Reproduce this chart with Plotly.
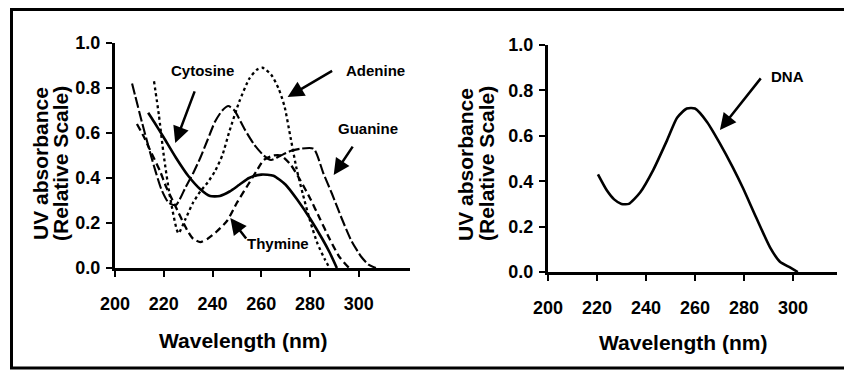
import plotly.graph_objects as go

# ---------------- data ----------------
cytosine_wl = [213.6, 216, 220, 225, 230, 235, 239, 243, 247, 251, 255, 260, 265, 270, 275, 280, 285, 288, 291]
cytosine_abs = [0.69, 0.65, 0.58, 0.49, 0.41, 0.35, 0.32, 0.32, 0.34, 0.37, 0.40, 0.415, 0.41, 0.37, 0.30, 0.22, 0.13, 0.07, 0.0]

adenine_wl = [216, 218, 220, 222.5, 226, 229, 232, 235, 238, 241, 244, 247, 251, 255, 258, 260.5, 264, 267, 269.5, 272, 274.5, 277, 280, 283, 286, 288]
adenine_abs = [0.83, 0.68, 0.50, 0.32, 0.155, 0.22, 0.29, 0.34, 0.38, 0.43, 0.50, 0.61, 0.74, 0.84, 0.88, 0.89, 0.86, 0.80, 0.72, 0.58, 0.44, 0.33, 0.21, 0.11, 0.04, 0.0]

guanine_wl = [207, 211, 215, 219, 222, 225, 229, 232, 235, 238, 241, 244, 246.5, 249, 253, 257, 261, 264, 268, 272, 276, 281.5, 285.5, 289, 293, 297, 301, 304, 307]
guanine_abs = [0.82, 0.65, 0.49, 0.35, 0.29, 0.28, 0.36, 0.42, 0.49, 0.57, 0.65, 0.70, 0.72, 0.70, 0.62, 0.55, 0.50, 0.48, 0.50, 0.52, 0.53, 0.53, 0.42, 0.33, 0.22, 0.12, 0.05, 0.015, 0.0]

thymine_wl = [209, 212, 215, 218.5, 221, 225, 229.5, 232, 235, 238, 241.5, 246, 250, 254, 258, 261, 265, 268, 272, 276, 280, 284, 288, 292, 296]
thymine_abs = [0.64, 0.58, 0.51, 0.43, 0.36, 0.27, 0.17, 0.13, 0.115, 0.13, 0.16, 0.21, 0.29, 0.36, 0.43, 0.48, 0.50, 0.50, 0.46, 0.39, 0.31, 0.22, 0.13, 0.05, 0.0]

dna_wl = [220.4, 224, 227, 230, 233, 237.6, 243, 248.6, 252.7, 256.7, 260, 265, 270, 275.5, 279.6, 285, 290.6, 294.7, 298.8, 302]
dna_abs = [0.43, 0.36, 0.32, 0.30, 0.30, 0.35, 0.45, 0.58, 0.68, 0.72, 0.72, 0.66, 0.57, 0.46, 0.37, 0.24, 0.11, 0.045, 0.02, 0.0]

x_ticks = [200, 220, 240, 260, 280, 300]
y_ticks = [0.0, 0.2, 0.4, 0.6, 0.8, 1.0]

# ---------------- figure ----------------
# the page body has an 8 px margin, so the figure is made 8 px smaller
# and all page-pixel positions below are shifted by that offset
OFF = 8
W, H = 852 - OFF, 374 - OFF
FONT = "Liberation Sans, Arial, sans-serif"
NARROW = "Liberation Sans Narrow, Arial Narrow, Liberation Sans, sans-serif"

fig = go.Figure()

def add_curve(xs, ys, dash, width, axis):
    fig.add_trace(go.Scatter(
        x=xs, y=ys, mode="lines",
        line=dict(color="black", width=width, dash=dash, shape="spline", smoothing=0.6),
        xaxis="x" + axis, yaxis="y" + axis, showlegend=False, hoverinfo="skip"))

add_curve(cytosine_wl, cytosine_abs, "solid", 2.6, "")
add_curve(adenine_wl, adenine_abs, "3px,3px", 2.3, "")
add_curve(guanine_wl, guanine_abs, "11px,3px", 2.1, "")
add_curve(thymine_wl, thymine_abs, "7px,4px", 2.3, "")
add_curve(dna_wl, dna_abs, "solid", 2.6, "2")

def px_x(p):
    return (p - OFF) / W

def px_y(p):
    return 1 - (p - OFF) / H

axis_common = dict(
    showline=True, linecolor="black", linewidth=3, mirror=False,
    showgrid=False, zeroline=False, automargin=False,
    ticks="outside", ticklen=6, tickwidth=2, tickcolor="black",
    tickfont=dict(family=FONT, size=18, color="black", weight="bold"),
)

fig.update_layout(
    width=W, height=H,
    margin=dict(l=0, r=0, t=0, b=0, pad=0, autoexpand=False),
    paper_bgcolor="white", plot_bgcolor="white",
    showlegend=False,
    xaxis=dict(axis_common, domain=[px_x(115), px_x(410)], range=[200, 321],
               tickvals=x_ticks, anchor="y", ticklabelstandoff=11),
    yaxis=dict(axis_common, domain=[px_y(268), px_y(43)], range=[0, 1],
               tickvals=y_ticks, tickformat=".1f", anchor="x", ticklabelstandoff=2),
    xaxis2=dict(axis_common, domain=[px_x(548), px_x(837)], range=[200, 318],
                tickvals=x_ticks, anchor="y2", ticklabelstandoff=11),
    yaxis2=dict(axis_common, domain=[px_y(272), px_y(45)], range=[0, 1],
                tickvals=y_ticks, tickformat=".1f", anchor="x2", ticklabelstandoff=2),
)

# frame around the whole picture
fig.add_shape(type="rect", xref="paper", yref="paper",
              x0=px_x(11.5), x1=px_x(866), y0=px_y(368), y1=px_y(9.5),
              line=dict(color="black", width=3), fillcolor="rgba(0,0,0,0)")

annots = []
title_font = dict(family=FONT, size=21, color="black", weight="bold")
ytitle_font = dict(family=FONT, size=21, color="black", weight="bold")
label_font = dict(family=NARROW, size=15, color="black", weight="bold")

# axis titles
for cx, cy in [(243, 340), (683, 342)]:
    annots.append(dict(text="Wavelength (nm)", xref="paper", yref="paper",
                       x=px_x(cx), y=px_y(cy), showarrow=False, font=title_font,
                       xanchor="center", yanchor="middle"))
for c1, c2 in [(40, 60), (465, 486)]:
    annots.append(dict(text="UV absorbance", xref="paper", yref="paper",
                       x=px_x(c1), y=px_y(164), showarrow=False, font=ytitle_font,
                       textangle=-90, xanchor="center", yanchor="middle"))
    annots.append(dict(text="(Relative Scale)", xref="paper", yref="paper",
                       x=px_x(c2), y=px_y(164), showarrow=False, font=ytitle_font,
                       textangle=-90, xanchor="center", yanchor="middle"))

# curve labels
labels = [("Cytosine", 235.8, 0.88, "x", "y"),
          ("Adenine", 307.0, 0.88, "x", "y"),
          ("Guanine", 303.7, 0.62, "x", "y"),
          ("Thymine", 266.7, 0.11, "x", "y"),
          ("DNA", 297.6, 0.86, "x2", "y2")]
for t, lx, ly, xr, yr in labels:
    annots.append(dict(text=t, x=lx, y=ly, xref=xr, yref=yr, showarrow=False,
                       font=label_font, xanchor="center", yanchor="middle"))

# arrows (tip in data coords, tail offset in pixels)
arrows = [(224.7, 0.556, 20, -53, "x", "y"),
          (270.8, 0.76, 46, -27, "x", "y"),
          (289.7, 0.413, 20, -30, "x", "y"),
          (247.3, 0.222, 17, 22, "x", "y"),
          (270.2, 0.626, 42, -53, "x2", "y2")]
for ax_, ay_, dx, dy, xr, yr in arrows:
    annots.append(dict(text="", x=ax_, y=ay_, xref=xr, yref=yr, ax=dx, ay=dy,
                       showarrow=True, arrowhead=2, arrowsize=1.3, arrowwidth=2.5,
                       arrowcolor="black"))

fig.update_layout(annotations=annots)

fig.write_html("out.html")
